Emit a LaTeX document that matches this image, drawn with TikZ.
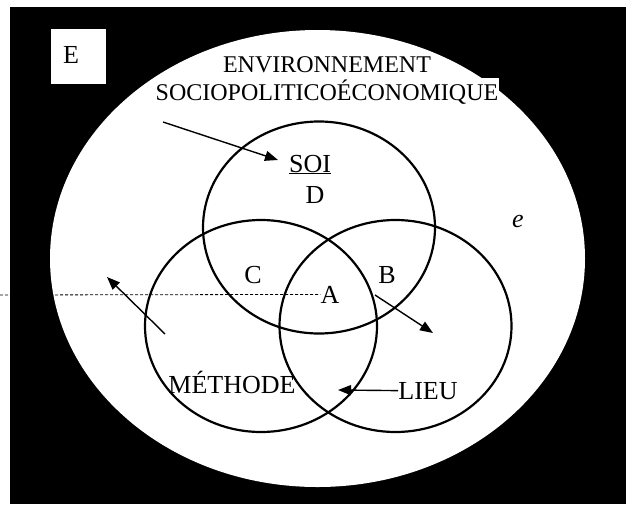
\documentclass[tikz,border=0pt]{standalone}
\usepackage{fontspec}
\setmainfont{Liberation Serif}
\usetikzlibrary{positioning,arrows.meta}

\begin{document}
\begin{tikzpicture}[
    x=1pt, y=-1pt,
    font=\fontsize{26}{30}\selectfont,
    venn/.style={draw=black, line width=2.2pt},
    lbl/.style={inner sep=0pt, anchor=base},
    envlbl/.style={lbl, fill=white, inner sep=1pt, font=\fontsize{24}{28}\selectfont},
    ebox/.style={fill=white, inner sep=0pt, minimum width=55pt, minimum height=55pt},
    arrow/.style={-{Triangle[length=13pt, width=10pt]}, line width=1.4pt},
    guide/.style={dashed, dash pattern=on 3pt off 2pt, line width=0.8pt}
]
\useasboundingbox (0,0) rectangle (626,504);

% background and environment
\fill[black] (10,7) rectangle (626,504);
\fill[white] (317.5,258.5) ellipse [x radius=267.5pt, y radius=228.5pt];
\node[ebox] (ebox) at (78.5,56.5) {};
\node[lbl] (E) at (71,63) {E};

% the three circles
\draw[venn] (319,227.5) ellipse [x radius=116pt, y radius=106pt];
\draw[venn] (261,326) ellipse [x radius=116pt, y radius=106pt];
\draw[venn] (395.5,326) ellipse [x radius=116pt, y radius=106pt];

% labels
\node[envlbl] (env) at (327,72) {ENVIRONNEMENT};
\node[envlbl] (sociopol) at (327,100) {SOCIOPOLITICOÉCONOMIQUE};
\node[lbl] (soi) at (310,172) {\underline{SOI}};
\node[lbl] (D) at (315,203) {D};
\node[lbl] (e) at (518,227) {\textit{e}};
\node[lbl] (C) at (253,283) {C};
\node[lbl] (A) at (330,303) {A};
\node[lbl] (B) at (387,283) {B};
\node[lbl] (methode) at (232,393) {MÉTHODE};
\node[lbl] (lieu) at (428,399) {LIEU};

% free ends
\coordinate (dashstart) at (0,295);
\coordinate (envtail) at (163,122);
\coordinate (soitip) at (278,160);
\coordinate (mettail) at (165,334);
\coordinate (mettip) at (107,277);
\coordinate (btail) at (375,295);
\coordinate (btip) at (433,333);
\coordinate (lieutip) at (338,390);

% connectors
\draw[guide] (dashstart) -- (A.west);
\draw[arrow] (envtail) -- (soitip);
\draw[arrow] (mettail) -- (mettip);
\draw[arrow] (btail) -- (btip);
\draw[arrow] (lieu.west) -- (lieutip);

\end{tikzpicture}
\end{document}
